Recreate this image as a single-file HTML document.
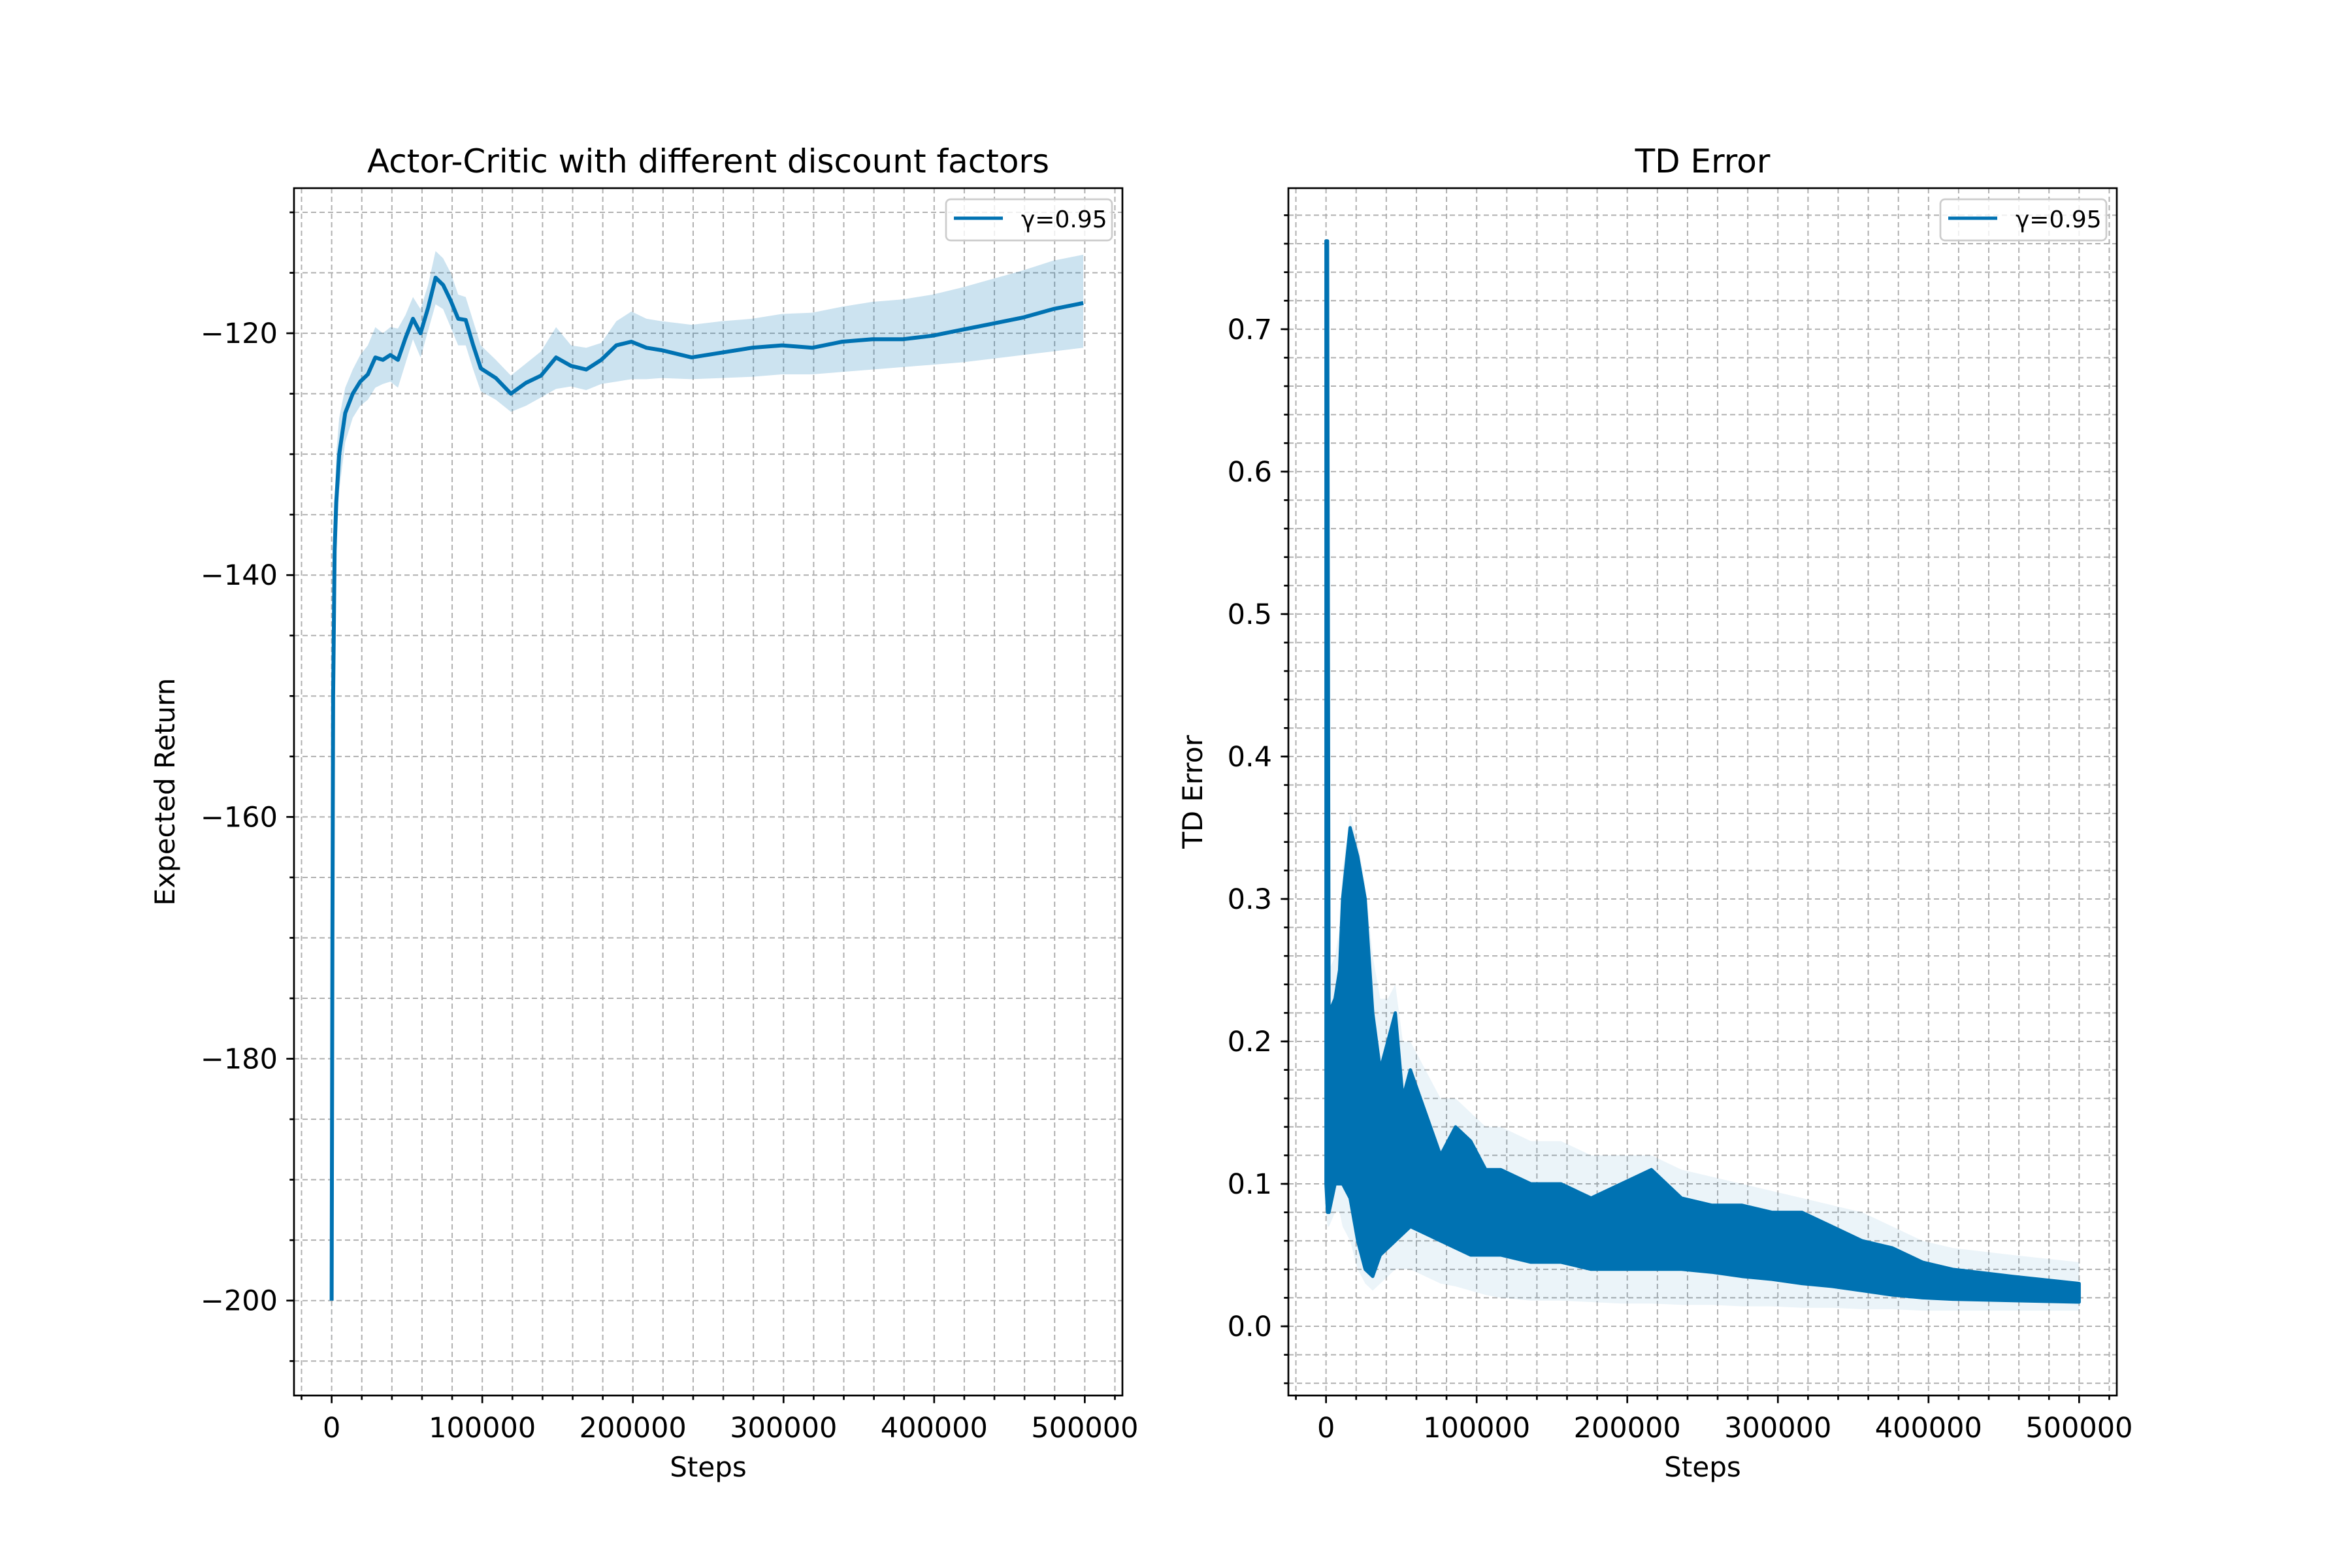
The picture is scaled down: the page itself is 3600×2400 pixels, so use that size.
<!DOCTYPE html>
<html><head><meta charset="utf-8"><style>
html,body{margin:0;padding:0;background:#fff;}
svg{display:block;font-family:"DejaVu Sans","Liberation Sans",sans-serif;}
</style></head><body>
<svg id="fig" width="3600" height="2400" viewBox="0 0 3600 2400" xmlns="http://www.w3.org/2000/svg">
<rect width="3600" height="2400" fill="#fff"/>
<g id="left"></g>
<g id="right"></g>
</svg>
<script>
// ---- Left chart data ----
const retSteps = [0,500,1000,2000,3000,5000,9000,14000,19000,24000,29000,34000,39000,44000,49000,54000,59000,64000,69000,74000,79000,84000,89000,94000,99000,109000,119000,129000,139000,149000,159000,169000,179000,189000,199000,209000,219000,239000,259000,279000,299000,319000,339000,359000,379000,399000,419000,439000,459000,479000,499000];
const retMean = [-200,-170,-150,-138,-134,-130,-126.6,-125,-124,-123.4,-122,-122.2,-121.8,-122.2,-120.4,-118.8,-120,-117.9,-115.4,-116,-117.3,-118.8,-118.9,-121,-122.9,-123.7,-125,-124.1,-123.5,-122,-122.7,-123,-122.2,-121,-120.7,-121.2,-121.4,-122,-121.6,-121.2,-121,-121.2,-120.7,-120.5,-120.5,-120.2,-119.7,-119.2,-118.7,-118,-117.5];
const retUpper = [-195,-160,-142,-134,-130,-127,-124.5,-123,-121.8,-121,-119.5,-120,-119.5,-119.6,-118.5,-117,-118,-116,-113.2,-113.8,-115,-116.8,-117,-119,-121,-122.2,-123.5,-122.5,-121.5,-119.5,-121,-121.2,-120.8,-119,-118.2,-118.8,-119,-119.3,-119,-118.8,-118.4,-118.3,-117.8,-117.4,-117.2,-116.8,-116.2,-115.5,-114.8,-114,-113.5];
const retLower = [-205,-180,-158,-142,-138,-133,-129,-127,-126,-125.5,-124.5,-124.2,-124,-124.5,-122.5,-120.5,-122,-119.8,-117.6,-118,-119.5,-121,-121,-123,-124.8,-125.5,-126.5,-126,-125.3,-124.6,-124.4,-124.7,-124.2,-124,-123.8,-123.8,-123.7,-123.8,-123.7,-123.6,-123.4,-123.4,-123.2,-123,-122.8,-122.6,-122.4,-122.1,-121.8,-121.5,-121.2];
const retYTicks = [-200,-180,-160,-140,-120];
const xTicks = [0,100000,200000,300000,400000,500000];
// ---- Right chart data ----
const tdSteps = [0,1000,2000,6000,9000,11000,16000,21000,26000,31000,36000,41000,46000,51000,56000,66000,76000,86000,96000,106000,116000,136000,156000,176000,196000,216000,236000,256000,276000,296000,316000,336000,356000,376000,396000,416000,456000,500000];
const tdHi = [0.762,0.762,0.22,0.23,0.25,0.30,0.35,0.33,0.30,0.22,0.18,0.20,0.22,0.16,0.18,0.15,0.12,0.14,0.13,0.11,0.11,0.10,0.10,0.09,0.10,0.11,0.09,0.085,0.085,0.08,0.08,0.07,0.06,0.055,0.045,0.04,0.035,0.03];
const tdLo = [0.10,0.08,0.08,0.10,0.10,0.10,0.09,0.06,0.04,0.035,0.05,0.055,0.06,0.065,0.07,0.065,0.06,0.055,0.05,0.05,0.05,0.045,0.045,0.04,0.04,0.04,0.04,0.038,0.035,0.033,0.03,0.028,0.025,0.022,0.02,0.019,0.018,0.017];
const tdStdHi = [0.25,0.25,0.25,0.26,0.28,0.32,0.36,0.34,0.31,0.26,0.23,0.23,0.24,0.2,0.2,0.18,0.16,0.16,0.15,0.14,0.14,0.13,0.13,0.12,0.12,0.12,0.11,0.105,0.1,0.095,0.09,0.085,0.08,0.07,0.06,0.055,0.05,0.045];
const tdStdLo = [0.08,0.07,0.07,0.08,0.08,0.07,0.06,0.04,0.03,0.025,0.03,0.035,0.04,0.04,0.04,0.035,0.03,0.028,0.025,0.022,0.02,0.018,0.018,0.017,0.016,0.016,0.015,0.015,0.014,0.014,0.013,0.013,0.012,0.012,0.011,0.011,0.011,0.011];
const tdYTicks = [0.0,0.1,0.2,0.3,0.4,0.5,0.6,0.7];

const NS='http://www.w3.org/2000/svg';
const BLUE='#0072B2';
function mk(parent,tag,attrs,text){const e=document.createElementNS(NS,tag);for(const k in attrs)e.setAttribute(k,attrs[k]);if(text!==undefined)e.textContent=text;parent.appendChild(e);return e;}

function axes(g,cfg){
  const {L,R,T,B,x0,x1,y0,y1}=cfg;
  const X=v=>L+(v-x0)/(x1-x0)*(R-L);
  const Y=v=>B-(v-y0)/(y1-y0)*(B-T);
  const grid=mk(g,'g',{stroke:'#b0b0b0','stroke-width':2,'stroke-dasharray':'8,5',fill:'none'});
  
  
  for(let v=-20000;v<=x1;v+=20000){if(v<x0)continue;const px=X(v);mk(grid,'line',{x1:px,x2:px,y1:T,y2:B});
    mk(g,'line',{x1:px,x2:px,y1:B,y2:B+(v%100000===0?11.7:6.7),stroke:'#000','stroke-width':2.7});}
  for(let v=Math.ceil(y0/cfg.minor)*cfg.minor;v<=y1+1e-9;v+=cfg.minor){const py=Y(v);mk(grid,'line',{x1:L,x2:R,y1:py,y2:py});
    mk(g,'line',{x1:L-6.7,x2:L,y1:py,y2:py,stroke:'#000','stroke-width':2.7});}
  return {X,Y};
}
function frame(g,cfg,X,Y,yTicks,fmt,title,ylabel,ylabelX){
  const {L,R,T,B}=cfg;
  for(const v of yTicks){const py=Y(v);mk(g,'line',{x1:L-11.7,x2:L,y1:py,y2:py,stroke:'#000','stroke-width':2.7});
    const t=mk(g,'text',{x:L-25,y:py+15,'font-size':43,'text-anchor':'end'},fmt(v));
    
    }
  for(const v of xTicks){const px=X(v);
    const t=mk(g,'text',{x:px,y:B+64,'font-size':43,'text-anchor':'middle'},String(v));
    
    }
  const sp=mk(g,'rect',{x:L,y:T,width:R-L,height:B-T,fill:'none',stroke:'#000','stroke-width':2.7});
  
  
  const tt=mk(g,'text',{x:(L+R)/2,y:T-24,'font-size':50,'text-anchor':'middle'},title);
  
  
  const xl=mk(g,'text',{x:(L+R)/2,y:B+124,'font-size':42,'text-anchor':'middle'},'Steps');
  
  
  const yl=mk(g,'text',{x:0,y:0,'font-size':42,'text-anchor':'middle',transform:`translate(${ylabelX},${(T+B)/2}) rotate(-90)`},ylabel);
  
  
  const lg=mk(g,'g',{});
  
  
  mk(lg,'rect',{x:R-270,y:T+17,width:254,height:63,rx:7,fill:'#fff','fill-opacity':0.8,stroke:'#cccccc','stroke-width':2.7});
  mk(lg,'line',{x1:R-258,x2:R-183,y1:T+46,y2:T+46,stroke:BLUE,'stroke-width':5});
  mk(lg,'text',{x:R-155,y:T+60,'font-size':36},'γ=0.95');
}
function pts(X,Y,xs,ys){return xs.map((s,i)=>X(s).toFixed(1)+','+Y(ys[i]).toFixed(1));}

(function(){
  const g=document.getElementById('left');
  const cfg={L:450,R:1718,T:288,B:2136,x0:-25000,x1:525000,y0:-207.85,y1:-108.0,minor:5};
  const {X,Y}=axes(g,cfg);
  const band=mk(g,'polygon',{points:pts(X,Y,retSteps,retUpper).concat(pts(X,Y,retSteps,retLower).reverse()).join(' '),fill:BLUE,'fill-opacity':0.2});
  
  
  const ln=mk(g,'polyline',{points:pts(X,Y,retSteps,retMean).join(' '),fill:'none',stroke:BLUE,'stroke-width':6,'stroke-linejoin':'round'});
  
  
  frame(g,cfg,X,Y,retYTicks,v=>'\u2212'+Math.abs(v),'Actor-Critic with different discount factors','Expected Return',267);
})();
(function(){
  const g=document.getElementById('right');
  const cfg={L:1972,R:3240,T:288,B:2136,x0:-25000,x1:525000,y0:-0.0486,y1:0.799,minor:0.02};
  const {X,Y}=axes(g,cfg);
  const sb=mk(g,'polygon',{points:pts(X,Y,tdSteps,tdStdHi).concat(pts(X,Y,tdSteps,tdStdLo).reverse()).join(' '),fill:BLUE,'fill-opacity':0.08});
  
  
  const env=mk(g,'polygon',{points:pts(X,Y,tdSteps,tdHi).concat(pts(X,Y,tdSteps,tdLo).reverse()).join(' '),fill:BLUE,stroke:BLUE,'stroke-width':5,'stroke-linejoin':'round'});
  
  
  frame(g,cfg,X,Y,tdYTicks,v=>v.toFixed(1),'TD Error','TD Error',1840);
})();
</script>
</body></html>
